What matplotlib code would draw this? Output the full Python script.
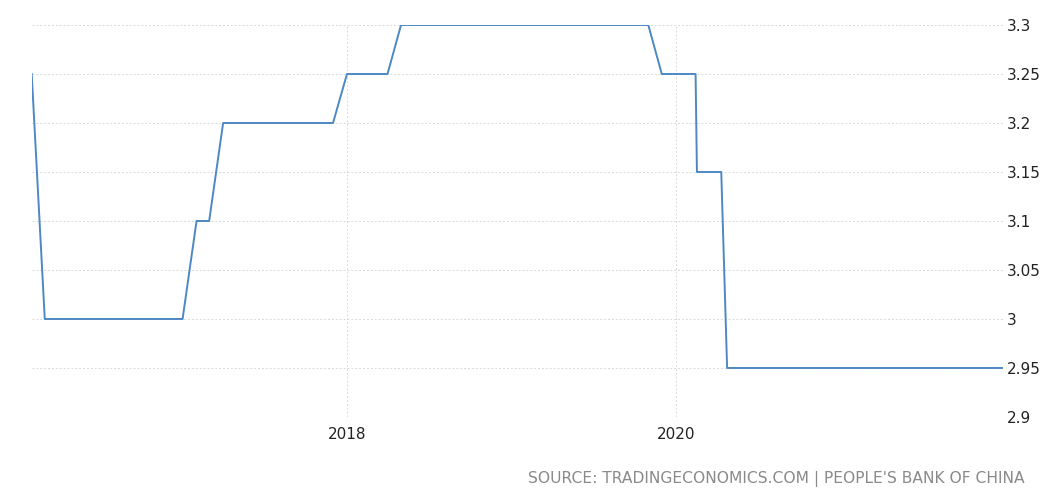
"""
Recreation of a TradingEconomics style step chart: China 1-year MLF rate.
"""

import numpy as np
import pandas as pd
import matplotlib as mpl
mpl.use("Agg")
import matplotlib.pyplot as plt
import matplotlib.dates as mdates

# Data
# ----------------------------------------------------------------------
DATES = ["2016-02-01", "2016-03-01", "2017-01-01", "2017-02-01",
         "2017-03-01", "2017-04-01", "2017-12-01", "2018-01-01",
         "2018-04-01", "2018-05-01", "2019-11-01", "2019-12-01",
         "2020-02-14", "2020-02-17", "2020-04-11", "2020-04-24",
         "2021-12-27"]
RATES = [3.25, 3.00, 3.00, 3.10,
         3.10, 3.20, 3.20, 3.25,
         3.25, 3.30, 3.30, 3.25,
         3.25, 3.15, 3.15, 2.95,
         2.95]
Y_TICKS = [2.9, 2.95, 3.0, 3.05, 3.1, 3.15, 3.2, 3.25, 3.3]
Y_TICK_LABELS = ["2.9", "2.95", "3", "3.05", "3.1", "3.15", "3.2", "3.25", "3.3"]
X_TICK_YEARS = [2018, 2020]
SOURCE = "SOURCE: TRADINGECONOMICS.COM | PEOPLE'S BANK OF CHINA"
# ----------------------------------------------------------------------

LINE_COLOR = "#4d88c4"
GRID_COLOR = "#d9d9d9"
FONT = "DejaVu Sans"

dates = pd.to_datetime(DATES)

fig = plt.figure(figsize=(10.5, 4.95), dpi=100)
ax = fig.add_axes([0.0302, 0.1576, 0.9248, 0.7919])

ax.plot(dates, RATES, color=LINE_COLOR, linewidth=1.4)

ax.set_xlim(dates[0], dates[-1])
ax.set_ylim(2.9, 3.3)

ax.set_yticks(Y_TICKS)
ax.set_yticklabels(Y_TICK_LABELS)
ax.yaxis.tick_right()
ax.set_xticks([pd.Timestamp(year=y, month=1, day=1) for y in X_TICK_YEARS])
ax.xaxis.set_major_formatter(mdates.DateFormatter("%Y"))

ax.tick_params(axis="both", length=0, labelsize=11, colors="#222222")
ax.tick_params(axis="y", pad=3)
ax.tick_params(axis="x", pad=7)
for lab in ax.get_xticklabels() + ax.get_yticklabels():
    lab.set_family(FONT)

ax.grid(True, color=GRID_COLOR, linestyle=(0, (2, 2)), linewidth=0.7)
ax.set_axisbelow(True)
for sp in ax.spines.values():
    sp.set_visible(False)

fig.text(0.976, 0.032, SOURCE, ha="right", va="center",
         fontsize=11.2, color="#8a8a8a", family=FONT)

fig.savefig("out.png", dpi=100)
